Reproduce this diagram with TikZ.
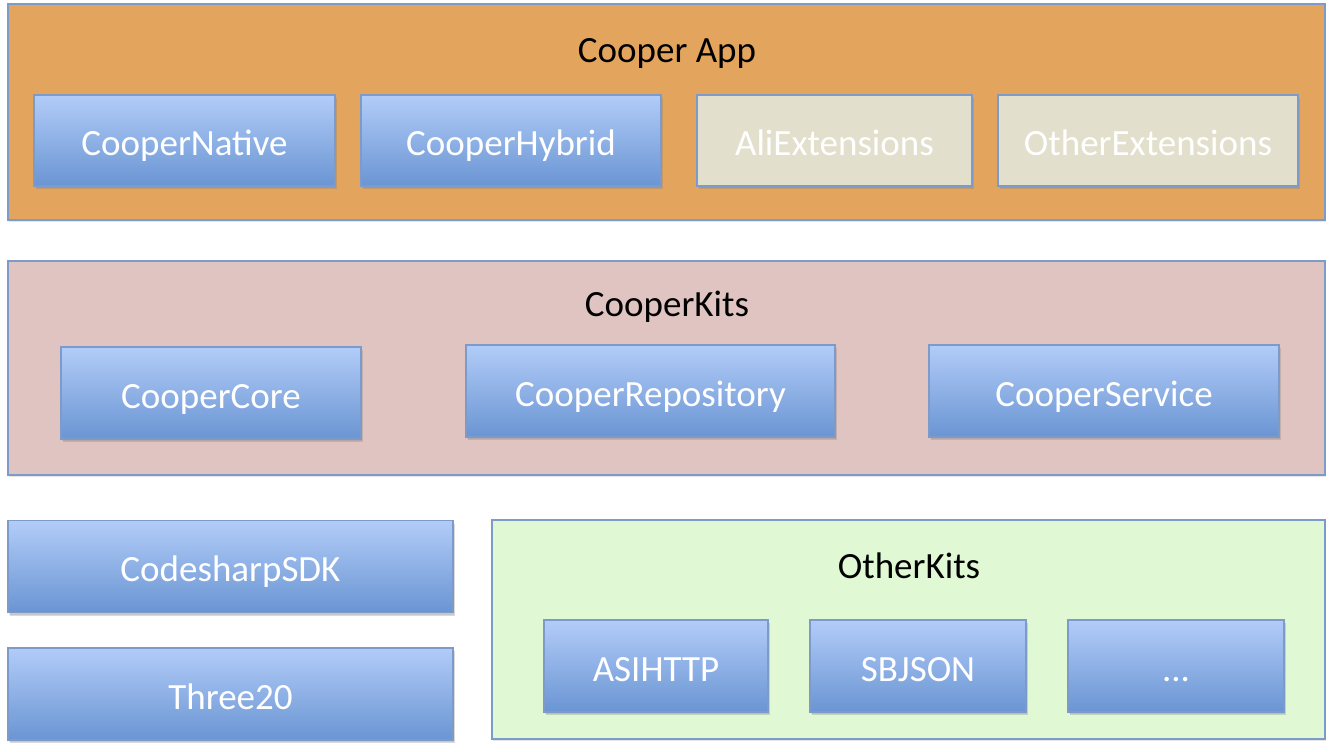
\documentclass[tikz,border=0pt]{standalone}
\usepackage{fontspec}
\setmainfont{Carlito}
\usetikzlibrary{shadows}
\definecolor{borderblue}{HTML}{7C9BCB}
\definecolor{orangefill}{HTML}{E3A55D}
\definecolor{pinkfill}{HTML}{E0C4C1}
\definecolor{greenfill}{HTML}{E0F9D4}
\definecolor{beigefill}{HTML}{E2DFCC}
\definecolor{bluetop}{HTML}{B2CCF8}
\definecolor{bluebot}{HTML}{6A95D3}
\tikzset{
  lbl/.style={font=\fontsize{37}{40}\selectfont, text height=30pt, text depth=0pt, inner sep=0pt},
  panel/.style={draw=borderblue, line width=1.5pt, inner sep=0pt,
    drop shadow={shadow xshift=1pt, shadow yshift=-2pt, opacity=0.2}},
  bluebox/.style={panel, top color=bluetop, bottom color=bluebot, text=white,
    font=\fontsize{37}{40}\selectfont, text height=30pt, text depth=0pt,
    drop shadow={shadow xshift=1.5pt, shadow yshift=-3pt, opacity=0.3}},
  beigebox/.style={panel, fill=beigefill, text=white,
    font=\fontsize{37}{40}\selectfont, text height=30pt, text depth=0pt,
    drop shadow={shadow xshift=1.5pt, shadow yshift=-3pt, opacity=0.3}},
}
\begin{document}
\begin{tikzpicture}[x=1pt, y=-1pt]
\useasboundingbox (0,0) rectangle (1333,752);
% Cooper App
\node[panel, fill=orangefill, minimum width=1317pt, minimum height=216pt] (app) at (666.5,112) {};
\node[lbl] (apptitle) at (667,48) {Cooper App};
\node[bluebox, minimum width=301pt, minimum height=91pt] (native) at (184.5,140.5) {CooperNative};
\node[bluebox, minimum width=300pt, minimum height=91pt] (hybrid) at (511,140.5) {CooperHybrid};
\node[beigebox, minimum width=275pt, minimum height=91pt] (ali) at (834.5,140.5) {AliExtensions};
\node[beigebox, minimum width=300pt, minimum height=91pt] (other) at (1148,140.5) {OtherExtensions};
% CooperKits
\node[panel, fill=pinkfill, minimum width=1317pt, minimum height=214pt] (kits) at (666.5,368) {};
\node[lbl] (kitstitle) at (667,301) {CooperKits};
\node[bluebox, minimum width=300pt, minimum height=92pt] (core) at (211,393) {CooperCore};
\node[bluebox, minimum width=369pt, minimum height=92pt] (repo) at (650.5,391) {CooperRepository};
\node[bluebox, minimum width=350pt, minimum height=92pt] (service) at (1104,391) {CooperService};
% bottom left
\node[bluebox, minimum width=445pt, minimum height=92pt] (sdk) at (230.5,566.5) {CodesharpSDK};
\node[bluebox, minimum width=445pt, minimum height=92pt] (three) at (230.5,694) {Three20};
% OtherKits
\node[panel, fill=greenfill, minimum width=833pt, minimum height=219pt] (okits) at (908.5,629.5) {};
\node[lbl] (okitstitle) at (909,563.5) {OtherKits};
\node[bluebox, minimum width=224pt, minimum height=92pt] (asi) at (656,666) {ASIHTTP};
\node[bluebox, minimum width=216pt, minimum height=92pt] (sbj) at (918,666) {SBJSON};
\node[bluebox, minimum width=216pt, minimum height=92pt] (dots) at (1176,666) {...};
\end{tikzpicture}
\end{document}
